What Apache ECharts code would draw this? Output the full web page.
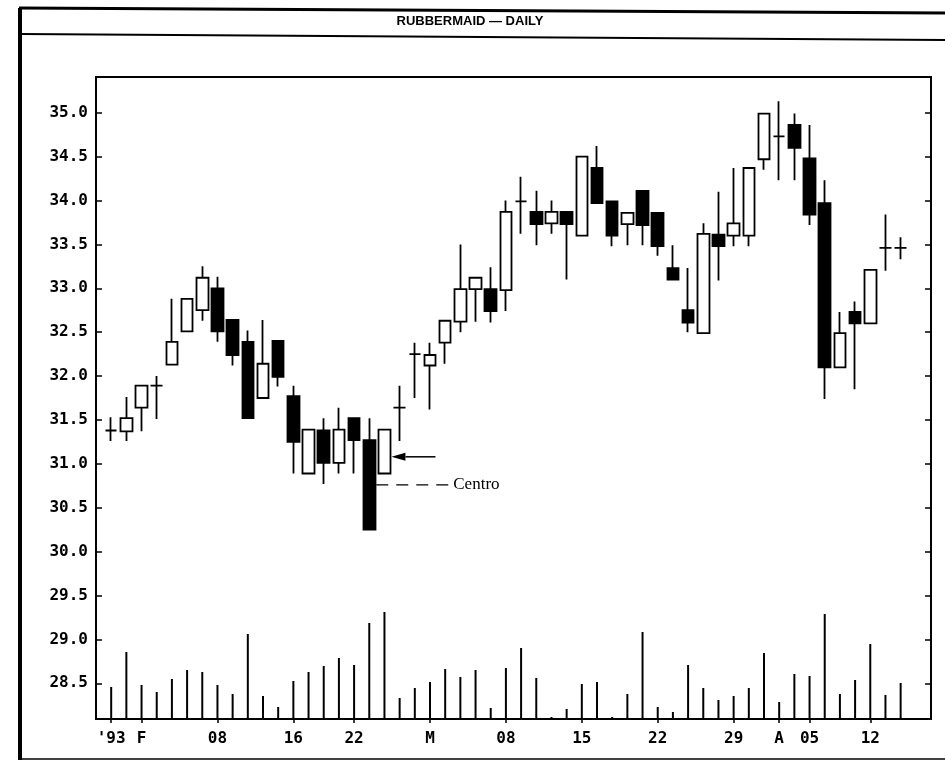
<!DOCTYPE html>
<html>
<head>
<meta charset="utf-8">
<title>Rubbermaid — Daily</title>
<script src="https://cdn.jsdelivr.net/npm/echarts@6.0.0/dist/echarts.min.js"></script>
<style>
  html, body { margin: 0; padding: 0; background: #fff; }
  #chart { width: 945px; height: 761px; }
</style>
</head>
<body>
<div id="chart"></div>
<script>
// trading days 1993; Jan 27 and Apr 15/16 are empty padding slots on the axis
const dates = [
  'Jan 27', 'Jan 28', 'Jan 29',
  'Feb 01', 'Feb 02', 'Feb 03', 'Feb 04', 'Feb 05', 'Feb 08', 'Feb 09', 'Feb 10', 'Feb 11', 'Feb 12',
  'Feb 16', 'Feb 17', 'Feb 18', 'Feb 19', 'Feb 22', 'Feb 23', 'Feb 24', 'Feb 25', 'Feb 26',
  'Mar 01', 'Mar 02', 'Mar 03', 'Mar 04', 'Mar 05', 'Mar 08', 'Mar 09', 'Mar 10', 'Mar 11', 'Mar 12',
  'Mar 15', 'Mar 16', 'Mar 17', 'Mar 18', 'Mar 19', 'Mar 22', 'Mar 23', 'Mar 24', 'Mar 25', 'Mar 26',
  'Mar 29', 'Mar 30', 'Mar 31',
  'Apr 01', 'Apr 02', 'Apr 05', 'Apr 06', 'Apr 07', 'Apr 08', 'Apr 12', 'Apr 13', 'Apr 14',
  'Apr 15', 'Apr 16'
];
const tickLabels = {
  'Jan 28': "'93", 'Feb 01': 'F', 'Feb 08': '08', 'Feb 16': '16', 'Feb 22': '22',
  'Mar 01': 'M', 'Mar 08': '08', 'Mar 15': '15', 'Mar 22': '22', 'Mar 29': '29',
  'Apr 01': 'A', 'Apr 05': '05', 'Apr 12': '12'
};
const priceTicks = [28.5, 29.0, 29.5, 30.0, 30.5, 31.0, 31.5, 32.0, 32.5, 33.0, 33.5, 34.0, 34.5, 35.0];

// Jan 28 .. Apr 14
const opens = [
  31.38, 31.37, 31.64, 31.89, 32.13, 32.51, 32.75, 33.00, 32.64, 32.39,
  31.75, 32.40, 31.77, 30.89, 31.38, 31.01, 31.52, 31.27, 30.89, 31.64,
  32.25, 32.12, 32.38, 32.62, 32.99, 32.99, 32.98, 33.99, 33.87, 33.74,
  33.87, 33.60, 34.37, 33.99, 33.73, 34.11, 33.86, 33.23, 32.75, 32.49,
  33.61, 33.60, 33.60, 34.47, 34.73, 34.86, 34.48, 33.97, 32.10, 32.73,
  32.60, 33.46, 33.46
];
const closes = [
  31.38, 31.52, 31.89, 31.89, 32.39, 32.88, 33.12, 32.51, 32.24, 31.52,
  32.14, 31.99, 31.25, 31.39, 31.01, 31.39, 31.27, 30.25, 31.39, 31.64,
  32.25, 32.24, 32.63, 32.99, 33.12, 32.74, 33.87, 33.99, 33.73, 33.87,
  33.73, 34.50, 33.97, 33.60, 33.86, 33.72, 33.48, 33.10, 32.61, 33.62,
  33.48, 33.74, 34.37, 34.99, 34.73, 34.60, 33.84, 32.10, 32.49, 32.60,
  33.21, 33.46, 33.46
];
const lows = [
  31.26, 31.26, 31.37, 31.51, 32.13, 32.51, 32.63, 32.39, 32.12, 31.52,
  31.75, 31.88, 30.89, 30.89, 30.77, 30.89, 30.89, 30.25, 30.89, 31.26,
  31.75, 31.62, 32.14, 32.50, 32.62, 32.61, 32.74, 33.62, 33.49, 33.62,
  33.10, 33.60, 33.97, 33.48, 33.49, 33.49, 33.37, 33.10, 32.50, 32.49,
  33.09, 33.48, 33.48, 34.35, 34.23, 34.23, 33.72, 31.74, 32.10, 31.85,
  32.60, 33.20, 33.33
];
const highs = [
  31.53, 31.76, 31.89, 32.00, 32.88, 32.88, 33.25, 33.13, 32.64, 32.52,
  32.64, 32.40, 31.89, 31.39, 31.52, 31.64, 31.52, 31.52, 31.39, 31.89,
  32.38, 32.38, 32.63, 33.50, 33.12, 33.24, 34.00, 34.27, 34.11, 34.00,
  33.87, 34.50, 34.62, 33.99, 33.86, 34.11, 33.86, 33.49, 33.23, 33.74,
  34.10, 34.37, 34.37, 34.99, 35.13, 34.99, 34.86, 34.23, 32.73, 32.85,
  33.21, 33.84, 33.58
];
// volume, drawn against its own hidden scale (0..642)
const volumes = [
  32, 67, 34, 27, 40, 49, 47, 34, 25, 85,
  23, 12, 38, 47, 53, 61, 54, 96, 107, 21,
  31, 37, 50, 42, 49, 11, 51, 71, 41, 2,
  10, 35, 37, 2, 25, 87, 12, 7, 54, 31,
  19, 23, 31, 66, 17, 45, 43, 105, 25, 39,
  75, 24, 36
];

const first = 1; // index in dates of the first traded day
const candleData = dates.map((d, i) => {
  const k = i - first;
  if (k < 0 || k >= opens.length) return '-';
  return [opens[k], closes[k], lows[k], highs[k]];
});
const volumeData = dates.map((d, i) => {
  const k = i - first;
  return k < 0 || k >= volumes.length ? '-' : volumes[k];
});

const chartDom = document.getElementById('chart');
const chart = echarts.init(chartDom);

const monoFont = 'DejaVu Sans Mono';
const yMin = 28.093;
const yMax = 35.407;

const option = {
  animation: false,
  backgroundColor: '#fff',
  grid: {
    left: 96,
    right: 14,
    top: 77,
    bottom: 42,
    show: true,
    borderColor: '#000',
    borderWidth: 2
  },
  xAxis: {
    type: 'category',
    data: dates,
    boundaryGap: false,
    axisLine: { show: true, lineStyle: { color: '#000', width: 2 } },
    axisTick: {
      show: true,
      interval: (i, v) => tickLabels[v] !== undefined,
      length: 4,
      lineStyle: { color: '#000', width: 1.5 }
    },
    axisLabel: {
      interval: (i, v) => tickLabels[v] !== undefined,
      formatter: v => tickLabels[v] || '',
      fontFamily: monoFont,
      fontWeight: 'bold',
      fontSize: 16,
      color: '#000',
      margin: 12
    },
    splitLine: { show: false }
  },
  yAxis: [
    {
      type: 'value',
      position: 'left',
      min: yMin,
      max: yMax,
      axisLine: { show: true, lineStyle: { color: '#000', width: 2 } },
      axisTick: {
        show: true,
        inside: true,
        length: 6,
        customValues: priceTicks,
        lineStyle: { color: '#000', width: 1.5 }
      },
      axisLabel: {
        customValues: priceTicks,
        formatter: v => v.toFixed(1),
        fontFamily: monoFont,
        fontWeight: 'bold',
        fontSize: 16,
        color: '#000',
        margin: 8
      },
      splitLine: { show: false }
    },
    {
      type: 'value',
      show: false,
      min: 0,
      max: 642
    },
    {
      type: 'value',
      position: 'right',
      min: yMin,
      max: yMax,
      axisLine: { show: true, lineStyle: { color: '#000', width: 2 } },
      axisTick: {
        show: true,
        inside: true,
        length: 6,
        customValues: priceTicks,
        lineStyle: { color: '#000', width: 1.5 }
      },
      axisLabel: { show: false },
      splitLine: { show: false }
    }
  ],
  series: [
    {
      name: 'Volume',
      type: 'bar',
      yAxisIndex: 1,
      barWidth: 2,
      itemStyle: { color: '#000' },
      data: volumeData
    },
    {
      name: 'Rubbermaid',
      type: 'candlestick',
      yAxisIndex: 0,
      barWidth: 12,
      itemStyle: {
        color: '#fff',
        color0: '#000',
        borderColor: '#000',
        borderColor0: '#000',
        borderColorDoji: '#000',
        borderWidth: 1.8
      },
      data: candleData
    }
  ]
};

chart.setOption(option);

// frame, title and the "Centro" note
const toPx = (idx, v) => chart.convertToPixel({ xAxisIndex: 0, yAxisIndex: 0 }, [idx, v]);
const arrowAt = toPx(19, 31.08);
const centroAt = toPx(18, 30.76);
const tipX = arrowAt[0] + 7;
const dashX = centroAt[0] + 7;

chart.setOption({
  graphic: [
    { type: 'line', shape: { x1: 20, y1: 8, x2: 20, y2: 760 }, style: { stroke: '#000', lineWidth: 4 } },
    { type: 'line', shape: { x1: 19, y1: 8, x2: 945, y2: 13 }, style: { stroke: '#000', lineWidth: 3 } },
    { type: 'line', shape: { x1: 20, y1: 34, x2: 945, y2: 40 }, style: { stroke: '#000', lineWidth: 1.8 } },
    { type: 'line', shape: { x1: 20, y1: 759, x2: 945, y2: 759 }, style: { stroke: '#000', lineWidth: 1.5 } },
    {
      type: 'text',
      x: 470,
      y: 21,
      style: {
        text: 'RUBBERMAID — DAILY',
        fontFamily: 'Liberation Sans Narrow, Liberation Sans',
        fontWeight: 'bold',
        fontSize: 13,
        fill: '#000',
        align: 'center',
        verticalAlign: 'middle'
      }
    },
    {
      type: 'polygon',
      shape: { points: [[tipX, arrowAt[1]], [tipX + 14, arrowAt[1] - 4], [tipX + 14, arrowAt[1] + 4]] },
      style: { fill: '#000' }
    },
    {
      type: 'line',
      shape: { x1: tipX + 14, y1: arrowAt[1], x2: tipX + 44, y2: arrowAt[1] },
      style: { stroke: '#000', lineWidth: 1.5 }
    },
    {
      type: 'line',
      shape: { x1: dashX, y1: centroAt[1], x2: dashX + 72, y2: centroAt[1] },
      style: { stroke: '#000', lineWidth: 1.3, lineDash: [12, 8] }
    },
    {
      type: 'text',
      x: dashX + 77,
      y: centroAt[1],
      style: {
        text: 'Centro',
        fontFamily: 'Liberation Serif',
        fontSize: 17,
        fill: '#000',
        verticalAlign: 'middle'
      }
    }
  ]
});

window.addEventListener('resize', () => chart.resize());
</script>
</body>
</html>
